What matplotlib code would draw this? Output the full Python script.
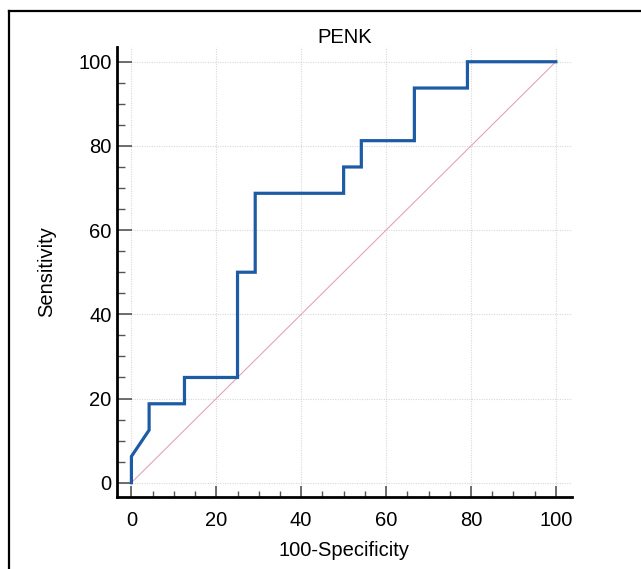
import matplotlib
matplotlib.use("Agg")
import matplotlib.pyplot as plt
from matplotlib.lines import Line2D
from matplotlib.ticker import MultipleLocator

plt.rcParams['font.family'] = ['Liberation Sans', 'DejaVu Sans']

# ROC curve for PENK (100-Specificity, Sensitivity)
fpr = [0, 0, 4.17, 4.17, 12.5, 12.5, 25, 25, 29.17, 29.17, 50, 50,
       54.17, 54.17, 66.67, 66.67, 79.17, 79.17, 100]
tpr = [0, 6.25, 12.5, 18.75, 18.75, 25, 25, 50, 50, 68.75, 68.75, 75,
       75, 81.25, 81.25, 93.75, 93.75, 100, 100]
ref_line = [0, 100]
ticks = [0, 20, 40, 60, 80, 100]

fig = plt.figure(figsize=(6.41, 5.69), dpi=100)
ax = fig.add_axes([0.1825, 0.1265, 0.7098, 0.7909])

# reference diagonal and ROC curve
ax.plot(ref_line, ref_line, color="#e6a3b3", lw=0.8, zorder=2)
ax.plot(fpr, tpr, color="#1d5ba5", lw=2.3, solid_joinstyle="miter", zorder=3)

ax.set_xlim(-3.4, 103.8)
ax.set_ylim(-3.4, 103.5)
ax.set_xticks(ticks)
ax.set_yticks(ticks)
ax.xaxis.set_minor_locator(MultipleLocator(5))
ax.yaxis.set_minor_locator(MultipleLocator(5))
ax.tick_params(which="both", direction="in", color="#555555", labelsize=14.5)
ax.tick_params(axis="x", which="major", length=8, width=1.2, pad=10)
ax.tick_params(axis="x", which="minor", length=4.2, width=1.0)
ax.tick_params(axis="y", which="major", length=10.5, width=1.2, pad=4)
ax.tick_params(axis="y", which="minor", length=5.5, width=1.0)

ax.grid(True, which="major", color="#d8d8d8", lw=0.8, ls=(0, (1, 1.2)))
ax.set_axisbelow(True)

for s in ("top", "right"):
    ax.spines[s].set_visible(False)
for s in ("left", "bottom"):
    ax.spines[s].set_linewidth(2)
    ax.spines[s].set_color("black")

ax.set_title("PENK", fontsize=14.5, pad=3)
ax.set_xlabel("100-Specificity", fontsize=14.5, labelpad=8)
ax.set_ylabel("Sensitivity", fontsize=14.5, labelpad=16)

# outer frame (left and top edges visible)
fig.add_artist(Line2D([9 / 641, 9 / 641], [0, 1 - 10.5 / 569],
                      transform=fig.transFigure, color="black", lw=1.6))
fig.add_artist(Line2D([9 / 641, 1], [1 - 10.5 / 569, 1 - 10.5 / 569],
                      transform=fig.transFigure, color="black", lw=1.6))

fig.savefig("out.png", dpi=100)
